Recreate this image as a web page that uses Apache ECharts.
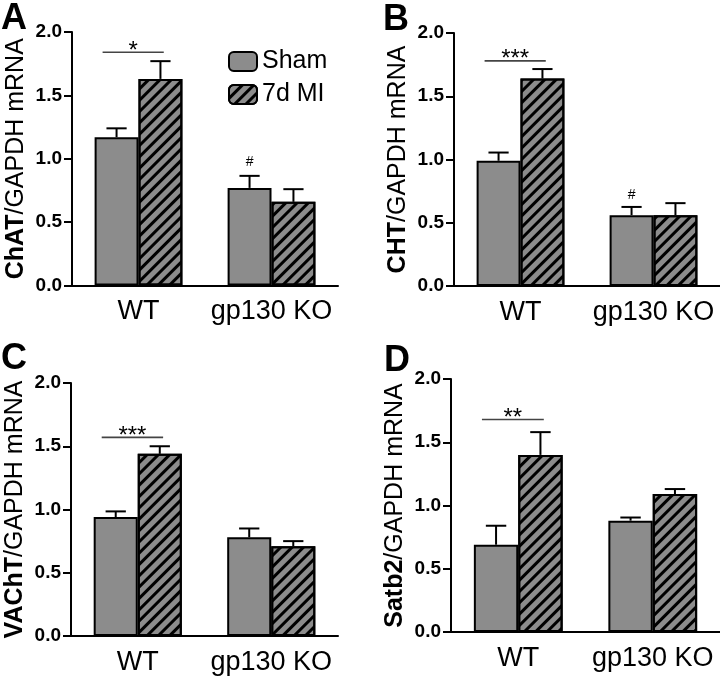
<!DOCTYPE html>
<html>
<head>
<meta charset="utf-8">
<script src="https://cdn.jsdelivr.net/npm/echarts@6/dist/echarts.min.js"></script>
<style>
html, body { margin: 0; padding: 0; background: #fff; }
#chart { width: 720px; height: 678px; }
</style>
</head>
<body>
<div id="chart"></div>
<script>
// categories and series names
const categories = ['WT', 'gp130 KO']
const seriesNames = ['Sham', '7d MI']
const panelLetters = ['A', 'B', 'C', 'D']
const yTitleBold = ['ChAT', 'CHT', 'VAChT', 'Satb2']
const yTitleRest = '/GAPDH mRNA'

// values (mean, upper error)
const shamA = [1.17, 0.77]
const shamErrA = [0.07, 0.095]
const miA = [1.63, 0.66]
const miErrA = [0.14, 0.10]

const shamB = [0.99, 0.56]
const shamErrB = [0.065, 0.065]
const miB = [1.64, 0.56]
const miErrB = [0.075, 0.095]

const shamC = [0.94, 0.78]
const shamErrC = [0.045, 0.07]
const miC = [1.44, 0.71]
const miErrC = [0.06, 0.04]

const shamD = [0.69, 0.88]
const shamErrD = [0.15, 0.025]
const miD = [1.40, 1.09]
const miErrD = [0.18, 0.04]

// significance bracket over WT, and '#' over gp130 KO sham
const sigY = [1.84, 1.78, 1.57, 1.68]
const sigStars = ['*', '***', '***', '**']
const hashY = [0.97, 0.72, null, null]

const shamAll = [shamA, shamB, shamC, shamD]
const shamErrAll = [shamErrA, shamErrB, shamErrC, shamErrD]
const miAll = [miA, miB, miC, miD]
const miErrAll = [miErrA, miErrB, miErrC, miErrD]

const FONT = '"Liberation Sans", Arial, sans-serif'
const GRAY = '#8c8c8c'
const CAT_GAP = 0.34

const grids = [
  { left: 72, top: 32, width: 266, height: 253.5 },
  { left: 454, top: 33, width: 266, height: 253 },
  { left: 71, top: 383, width: 267, height: 253 },
  { left: 451, top: 379, width: 269, height: 253 }
]
const letterPos = [[1, 1], [383, 2], [1, 341], [384, 343]]

const hatch = {
  symbol: 'rect',
  symbolSize: 1,
  dashArrayX: [1, 0],
  dashArrayY: [3, 5],
  rotation: -Math.PI / 4,
  color: '#000'
}

function errRender (side) {
  return function (params, api) {
    const cat = api.value(0)
    const v = api.value(1)
    const e = api.value(2)
    const band = api.size([1, 0])[0]
    const bw = band * (1 - CAT_GAP) / 2
    const p0 = api.coord([cat, v])
    const p1 = api.coord([cat, v + e])
    const x = p0[0] + side * bw / 2
    const cap = bw * 0.23
    const style = { stroke: '#000', lineWidth: 2 }
    return {
      type: 'group',
      children: [
        { type: 'line', shape: { x1: x, y1: p0[1], x2: x, y2: p1[1] }, style },
        { type: 'line', shape: { x1: x - cap, y1: p1[1], x2: x + cap, y2: p1[1] }, style }
      ]
    }
  }
}

function sigRender (idx) {
  return function (params, api) {
    const band = api.size([1, 0])[0]
    const bw = band * (1 - CAT_GAP) / 2
    const children = []
    const p = api.coord([0, sigY[idx]])
    const x1 = p[0] - band * 0.27
    const x2 = p[0] + band * 0.19
    children.push({ type: 'line', shape: { x1, y1: p[1], x2, y2: p[1] }, style: { stroke: '#444', lineWidth: 1.6 } })
    children.push({
      type: 'text',
      x: (x1 + x2) / 2,
      y: p[1] - 1,
      style: { text: sigStars[idx], font: '24px ' + FONT, fill: '#000', align: 'center', verticalAlign: 'middle' }
    })
    if (hashY[idx] != null) {
      const h = api.coord([1, hashY[idx]])
      children.push({
        type: 'text',
        x: h[0] - bw / 2,
        y: h[1],
        style: { text: '#', font: '14px ' + FONT, fill: '#000', align: 'center', verticalAlign: 'middle' }
      })
    }
    return { type: 'group', children }
  }
}

const option = {
  animation: false,
  backgroundColor: '#fff',
  textStyle: { fontFamily: FONT },
  legend: {
    data: seriesNames,
    orient: 'vertical',
    left: 223,
    top: 44,
    itemWidth: 28,
    itemHeight: 19,
    itemGap: 8,
    textStyle: { fontSize: 25, color: '#000', fontFamily: FONT }
  },
  graphic: panelLetters.map((t, i) => ({
    type: 'text',
    left: letterPos[i][0],
    top: letterPos[i][1],
    style: { text: t, font: 'bold 36px ' + FONT, fill: '#000' }
  })),
  grid: grids,
  xAxis: grids.map((g, i) => ({
    type: 'category',
    gridIndex: i,
    data: categories,
    axisLine: { lineStyle: { color: '#000', width: 2 } },
    axisTick: { alignWithLabel: true, length: 8, lineStyle: { color: '#000', width: 2 } },
    axisLabel: { color: '#000', fontSize: 27, margin: 13, interval: 0, fontFamily: FONT }
  })),
  yAxis: grids.map((g, i) => ({
    type: 'value',
    gridIndex: i,
    min: 0,
    max: 2,
    interval: 0.5,
    name: '{b|' + yTitleBold[i] + '}' + yTitleRest,
    nameLocation: 'middle',
    nameGap: 43,
    nameTextStyle: {
      fontSize: 25,
      color: '#000',
      fontFamily: FONT,
      rich: { b: { fontSize: 25, fontWeight: 'bold', color: '#000', fontFamily: FONT } }
    },
    axisLine: { show: true, lineStyle: { color: '#000', width: 2 } },
    axisTick: { show: true, length: 8, lineStyle: { color: '#000', width: 2 } },
    splitLine: { show: false },
    axisLabel: {
      color: '#000',
      fontSize: 19,
      fontWeight: 'bold',
      margin: 10,
      fontFamily: FONT,
      formatter: v => v.toFixed(1)
    }
  })),
  series: []
}

grids.forEach((g, i) => {
  option.series.push({
    name: seriesNames[0],
    type: 'bar',
    xAxisIndex: i,
    yAxisIndex: i,
    data: shamAll[i],
    barGap: '0%',
    barCategoryGap: (CAT_GAP * 100) + '%',
    itemStyle: { color: GRAY, borderColor: '#000', borderWidth: 2 }
  })
  option.series.push({
    name: seriesNames[1],
    type: 'bar',
    xAxisIndex: i,
    yAxisIndex: i,
    data: miAll[i],
    barGap: '0%',
    barCategoryGap: (CAT_GAP * 100) + '%',
    itemStyle: { color: GRAY, borderColor: '#000', borderWidth: 2, decal: hatch }
  })
  option.series.push({
    type: 'custom',
    xAxisIndex: i,
    yAxisIndex: i,
    renderItem: errRender(-1),
    data: shamAll[i].map((v, k) => [k, v, shamErrAll[i][k]]),
    z: 3
  })
  option.series.push({
    type: 'custom',
    xAxisIndex: i,
    yAxisIndex: i,
    renderItem: errRender(1),
    data: miAll[i].map((v, k) => [k, v, miErrAll[i][k]]),
    z: 3
  })
  option.series.push({
    type: 'custom',
    xAxisIndex: i,
    yAxisIndex: i,
    renderItem: sigRender(i),
    data: [[0, sigY[i]]],
    z: 3
  })
})

const myChart = echarts.init(document.getElementById('chart'))
myChart.setOption(option)
</script>
</body>
</html>
